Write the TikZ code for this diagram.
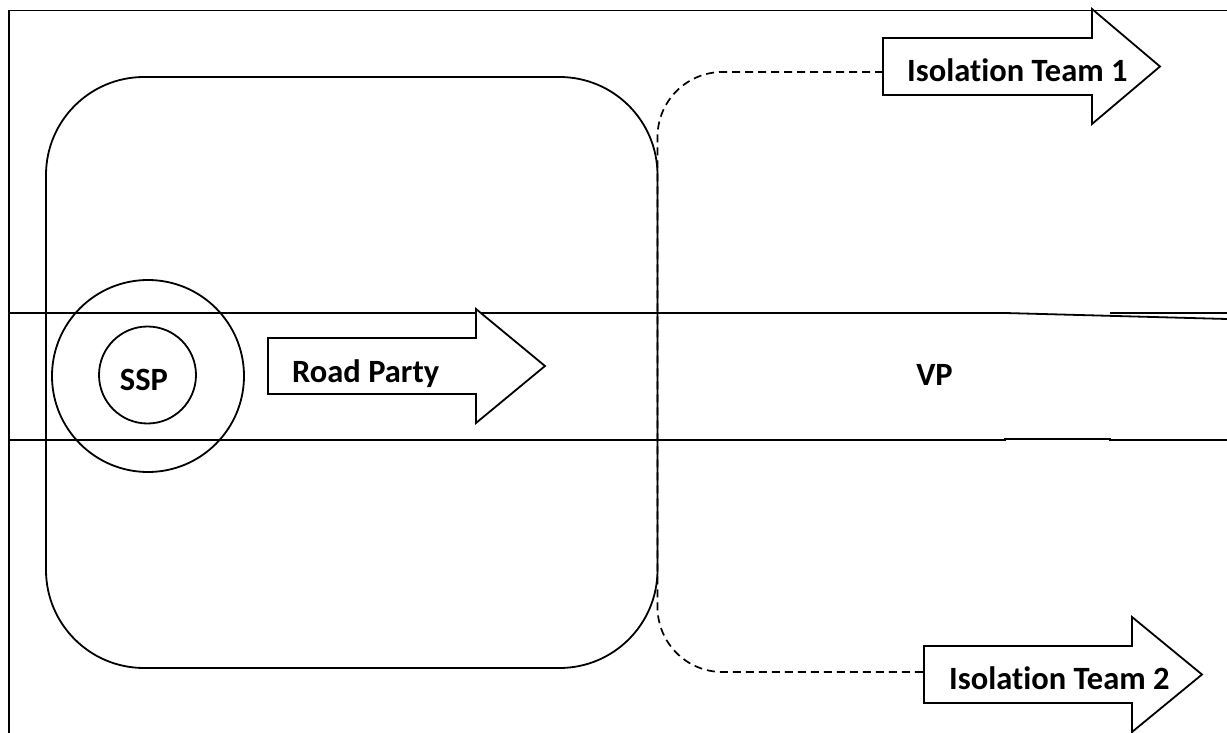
\documentclass[tikz,border=0pt]{standalone}
\usepackage{fontspec}
\setmainfont{Carlito}[Ligatures=NoCommon]
\begin{document}
\begin{tikzpicture}[x=1pt,y=-1pt,
  ln/.style={line width=1.8pt},
  arrowbox/.style={ln, fill=white, line join=miter},
  lbl/.style={font=\fontsize{32.5}{38}\selectfont\bfseries, inner sep=0pt},
  dashline/.style={line width=1.7pt, dash pattern=on 8pt off 5pt}]
\useasboundingbox (0,0) rectangle (1227,733);
% frame
\draw[ln] (9,733) -- (9,10.5) -- (1227,10.5);
% road
\draw[ln] (9,313) -- (1005,313) -- (1227,319);
\draw[ln] (1110,313) -- (1227,313);
\draw[ln] (9,440) -- (1005,440) -- (1005,439) -- (1110,439) -- (1110,440) -- (1227,440);
% rounded area
\draw[ln, rounded corners=98pt] (46,77) rectangle (657.5,668);
% circles
\node[ln, draw, circle, minimum size=192pt, inner sep=0pt] (outer) at (148,376) {};
\node[ln, draw, circle, minimum size=97pt, inner sep=0pt] (inner) at (147.5,375) {};
\node[lbl, anchor=base] (ssp) at (144,390) {SSP};
% Road party arrow
\draw[arrowbox] (268,338) -- (476,338) -- (476,309) -- (545,366) -- (476,423) -- (476,394) -- (268,394) -- cycle;
\node[lbl, anchor=base west] (road) at (292,382) {Road Party};
% VP
\node[lbl, anchor=base] (vp) at (934.5,385) {VP};
% Isolation team 1
\draw[arrowbox] (883,38) -- (1092,38) -- (1092,9) -- (1160,66.5) -- (1092,124) -- (1092,95) -- (883,95) -- cycle;
\coordinate (t1w) at (883,72);
\node[lbl, anchor=base west] (team1) at (907,82) {Isolation Team 1};
% Isolation team 2
\draw[arrowbox] (924,646) -- (1132,646) -- (1132,617) -- (1202,674.5) -- (1132,732) -- (1132,703) -- (924,703) -- cycle;
\coordinate (t2w) at (924,672);
\node[lbl, anchor=base west] (team2) at (949,689) {Isolation Team 2};
% dashed connector
\draw[dashline, rounded corners=65pt] (t1w) -- (657.5,72) -- (657.5,672) -- (t2w);
\end{tikzpicture}
\end{document}
